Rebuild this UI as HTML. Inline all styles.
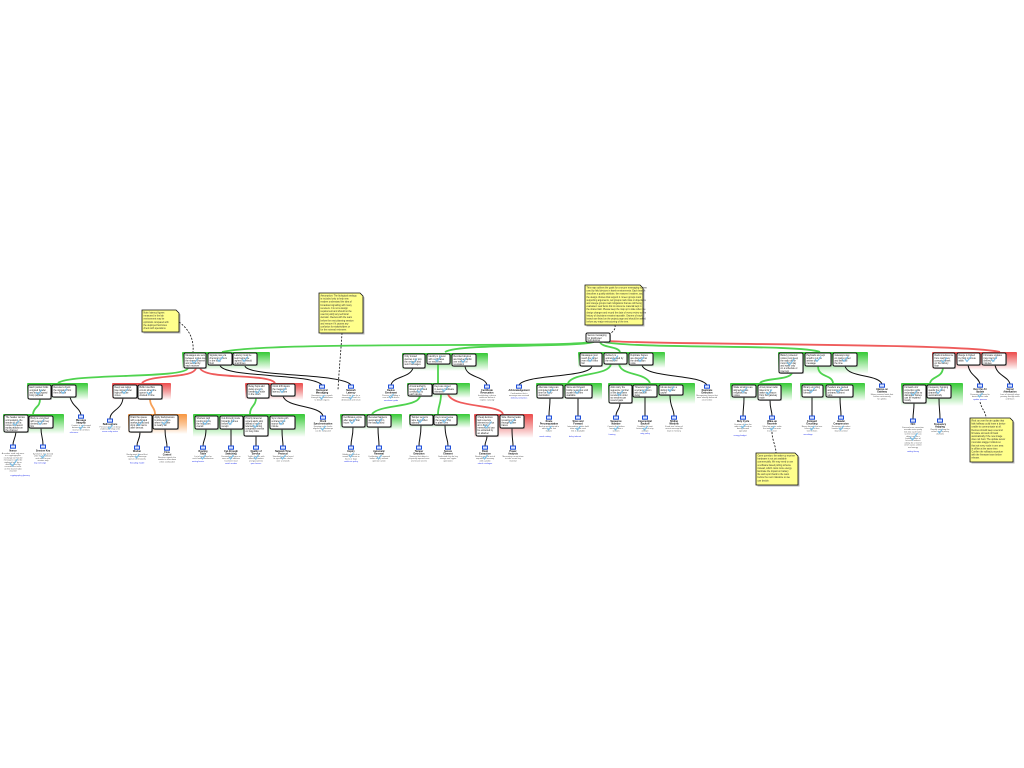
<!DOCTYPE html>
<html><head><meta charset="utf-8"><style>
html,body{margin:0;padding:0;background:#fff;width:1024px;height:768px;overflow:hidden}
svg{position:absolute;left:0;top:0}
.k{fill:#fff;stroke:#111;stroke-width:1}
.s{fill:#8a8a8a;opacity:.6}
.b{font-family:"Liberation Sans",sans-serif;font-size:2.3px;fill:#222}
.c{fill:none;stroke:#7cc2ec;stroke-width:1.1}
.t{font-family:"Liberation Sans",sans-serif;font-size:2.4px;font-weight:bold;fill:#111;text-anchor:middle}
.g{font-family:"Liberation Sans",sans-serif;font-size:2px;fill:#555;text-anchor:middle}
.l{font-family:"Liberation Sans",sans-serif;font-size:2px;fill:#2233ee;text-anchor:middle}
.ic{fill:#dbe6ff;stroke:#1f4fd8;stroke-width:1}
.n{fill:#ffff8c;stroke:#111;stroke-width:.8}
.ns{fill:#777;opacity:.5}
.nt{font-family:"Liberation Sans",sans-serif;font-size:2.3px;fill:#333}
.e{fill:none;stroke:#111;stroke-width:1}
.gr{fill:none;stroke:#4fd34f;stroke-width:1.8}
.rd{fill:none;stroke:#ef5b5b;stroke-width:1.8}
.or{fill:none;stroke:#f7a057;stroke-width:1.8}
.d{fill:none;stroke:#111;stroke-width:.8;stroke-dasharray:2 1.4}
</style></head><body>
<svg width="1024" height="768" viewBox="0 0 1024 768" xmlns="http://www.w3.org/2000/svg">
<defs>
<linearGradient id="gG" x1="0" y1="0" x2="0" y2="1"><stop offset="0" stop-color="#34c934"/><stop offset=".55" stop-color="#a6e9a6"/><stop offset="1" stop-color="#fff"/></linearGradient>
<linearGradient id="gR" x1="0" y1="0" x2="0" y2="1"><stop offset="0" stop-color="#ec4a4a"/><stop offset=".55" stop-color="#f5a9a9"/><stop offset="1" stop-color="#fff"/></linearGradient>
<linearGradient id="gO" x1="0" y1="0" x2="0" y2="1"><stop offset="0" stop-color="#f7953f"/><stop offset=".55" stop-color="#fbc99c"/><stop offset="1" stop-color="#fff"/></linearGradient>
</defs>

<!-- ===== root edges ===== -->
<path class="gr" d="M591,342 C560,348 270,341 222,352"/>
<path class="gr" d="M594,342 C570,348 460,343 445,352"/>
<path class="gr" d="M600,342 C602,348 618,346 620,352"/>
<path class="gr" d="M604,342 C640,349 800,344 820,352"/>
<path class="rd" d="M608,341 C660,345 960,343 1000,352"/>

<!-- ===== group backgrounds ===== -->
<rect x="182" y="352" width="88" height="18" rx="1" fill="url(#gG)"/>
<rect x="27" y="383" width="61" height="17" rx="1" fill="url(#gG)"/>
<rect x="112" y="383" width="59" height="17" rx="1" fill="url(#gR)"/>
<rect x="3" y="414" width="61" height="20" rx="1" fill="url(#gG)"/>
<rect x="128" y="414" width="59" height="20" rx="1" fill="url(#gO)"/>
<rect x="245" y="383" width="58" height="17" rx="1" fill="url(#gR)"/>
<rect x="193" y="414" width="112" height="23" rx="1" fill="url(#gG)"/>
<rect x="402" y="353" width="86" height="18" rx="1" fill="url(#gG)"/>
<rect x="407" y="383" width="63" height="15" rx="1" fill="url(#gG)"/>
<rect x="340" y="414" width="62" height="16" rx="1" fill="url(#gG)"/>
<rect x="409" y="414" width="61" height="14" rx="1" fill="url(#gG)"/>
<rect x="474" y="414" width="59" height="24" rx="1" fill="url(#gR)"/>
<rect x="578" y="352" width="87" height="16" rx="1" fill="url(#gG)"/>
<rect x="536" y="383" width="66" height="17" rx="1" fill="url(#gG)"/>
<rect x="608" y="383" width="87" height="21" rx="1" fill="url(#gG)"/>
<rect x="778" y="352" width="90" height="22" rx="1" fill="url(#gG)"/>
<rect x="730" y="383" width="62" height="18" rx="1" fill="url(#gG)"/>
<rect x="800" y="383" width="65" height="18" rx="1" fill="url(#gG)"/>
<rect x="932" y="352" width="85" height="18" rx="1" fill="url(#gR)"/>
<rect x="901" y="383" width="62" height="23" rx="1" fill="url(#gG)"/>

<!-- ===== edges ===== -->
<!-- A -->
<path class="gr" d="M188,368 C186,379 70,373 58,383"/>
<path class="rd" d="M196,368 C194,379 150,374 142,383"/>
<path class="rd" d="M200,368 C204,380 268,373 275,383"/>
<path class="e" d="M220,365 C222,378 312,373 322,385"/>
<path class="e" d="M245,366 C247,377 343,373 351,385"/>
<!-- G1 / R1 -->
<path class="gr" d="M40,399 C40,408 34,406 33,414"/>
<path class="e" d="M70,397 C72,406 80,408 81,415"/>
<path class="e" d="M123,398 C122,410 110,410 110,419"/>
<path class="or" d="M150,399 C150,407 155,407 155,414"/>
<path class="e" d="M16,432 C15,440 13,440 13,445"/>
<path class="e" d="M41,428 C41,437 43,437 43,445"/>
<path class="e" d="M140,432 C140,440 137,440 137,446"/>
<path class="e" d="M165,429 C165,440 167,440 167,447"/>
<!-- R2 / G2 -->
<path class="e" d="M283,396 C286,408 320,405 323,416"/>
<path class="gr" d="M256,398 C256,406 250,406 250,414"/>
<path class="e" d="M206,429 C206,440 203,440 203,446"/>
<path class="e" d="M231,429 L231,446"/>
<path class="e" d="M256,436 L256,446"/>
<path class="e" d="M282,429 C282,440 283,440 283,446"/>
<!-- B -->
<path class="e" d="M413,368 C410,378 393,376 391,385"/>
<path class="e" d="M465,366 C466,378 485,376 487,385"/>
<path class="gr" d="M438,364 C438,372 438,376 438,383"/>
<path class="gr" d="M420,396 C418,408 380,404 372,414"/>
<path class="gr" d="M441,394 C441,404 438,406 438,414"/>
<path class="rd" d="M448,394 C452,408 500,404 503,414"/>
<path class="e" d="M353,427 C353,438 351,438 351,446"/>
<path class="e" d="M378,427 C378,438 379,438 379,446"/>
<path class="e" d="M421,425 C421,438 419,438 419,446"/>
<path class="e" d="M445,425 C445,438 448,438 448,446"/>
<path class="e" d="M487,436 C487,441 485,441 485,446"/>
<path class="e" d="M512,428 C512,440 513,440 513,446"/>
<!-- C -->
<path class="e" d="M592,366 C590,378 525,374 519,385"/>
<path class="e" d="M642,365 C645,378 700,374 707,385"/>
<path class="gr" d="M611,364 C609,376 574,372 568,383"/>
<path class="gr" d="M619,364 C621,376 645,372 650,383"/>
<path class="e" d="M550,398 C550,408 549,408 549,416"/>
<path class="e" d="M578,398 L578,416"/>
<path class="e" d="M620,403 C620,410 616,410 616,416"/>
<path class="e" d="M645,397 L645,416"/>
<path class="e" d="M670,395 C670,408 674,408 674,416"/>
<!-- D -->
<path class="e" d="M845,366 C848,378 878,374 882,384"/>
<path class="gr" d="M792,373 C790,380 764,378 760,383"/>
<path class="gr" d="M818,366 C818,378 832,374 833,383"/>
<path class="e" d="M744,397 C744,408 743,408 743,416"/>
<path class="e" d="M770,400 C770,410 772,410 772,416"/>
<path class="e" d="M812,397 L812,416"/>
<path class="e" d="M840,397 C840,408 841,408 841,416"/>
<!-- E -->
<path class="gr" d="M943,368 C942,378 932,376 930,383"/>
<path class="e" d="M968,365 C970,376 978,376 980,384"/>
<path class="e" d="M995,365 C997,376 1008,376 1010,384"/>
<path class="e" d="M914,403 C914,412 913,412 913,419"/>
<path class="e" d="M939,398 C939,410 940,410 940,419"/>

<!-- dashed note connectors -->
<path class="d" d="M179,322 C190,330 194,340 193,352"/>
<path class="d" d="M342,333 C341,350 339,370 338,390"/>
<path class="d" d="M615,325 C616,330 612,332 610,334"/>
<path class="d" d="M772,432 C772,440 776,446 776,453"/>
<path class="d" d="M980,402 C982,410 986,412 986,418"/>

<!-- ===== boxes ===== -->
<!-- root -->
<rect class="s" x="587" y="334" width="24" height="9" rx="1.5"/><rect class="k" x="586" y="333" width="24" height="9" rx="1.5"/>
<text class="b"><tspan x="587.5" y="336.2">Secure messaging</tspan><tspan x="587.5" y="338.8">for distributed</tspan><tspan x="587.5" y="341.2">field devices</tspan></text>

<!-- A -->
<rect class="s" x="185" y="354" width="22" height="15" rx="1.5"/><rect class="k" x="184" y="353" width="22" height="15" rx="1.5"/>
<text class="b"><tspan x="185.5" y="356.2">Messages are sent</tspan><tspan x="185.5" y="358.8">between nodes over</tspan><tspan x="185.5" y="361.4">the shared channel</tspan><tspan x="185.5" y="364">and verified by</tspan><tspan x="185.5" y="366.6">each receiver</tspan></text><path class="c" d="M192,361 l2,2.5 l4,-5"/>
<rect class="s" x="209" y="354" width="24" height="12" rx="1.5"/><rect class="k" x="208" y="353" width="24" height="12" rx="1.5"/>
<text class="b"><tspan x="209.5" y="356.2">Signals pass via</tspan><tspan x="209.5" y="358.8">chemical carriers</tspan><tspan x="209.5" y="361.4">in the body</tspan><tspan x="209.5" y="364">fluid</tspan></text><path class="c" d="M217,359 l2,2.5 l4,-5"/>
<rect class="s" x="234" y="354" width="24" height="12" rx="1.5"/><rect class="k" x="233" y="353" width="24" height="12" rx="1.5"/>
<text class="b"><tspan x="234.5" y="356.2">Latency must be</tspan><tspan x="234.5" y="358.8">kept below the</tspan><tspan x="234.5" y="361.4">agreed threshold</tspan><tspan x="234.5" y="364">at all times</tspan></text><path class="c" d="M242,359 l2,2.5 l4,-5"/>

<!-- G1 -->
<rect class="s" x="29" y="386" width="23" height="14" rx="1.5"/><rect class="k" x="28" y="385" width="23" height="14" rx="1.5"/>
<text class="b"><tspan x="29.5" y="388.2">Each packet holds</tspan><tspan x="29.5" y="390.8">a signed header</tspan><tspan x="29.5" y="393.4">and an encrypted</tspan><tspan x="29.5" y="396">body payload</tspan></text><path class="c" d="M36,392 l2,2.5 l4,-5"/>
<rect class="s" x="53" y="386" width="24" height="12" rx="1.5"/><rect class="k" x="52" y="385" width="24" height="12" rx="1.5"/>
<text class="b"><tspan x="53.5" y="388.2">Receivers check</tspan><tspan x="53.5" y="390.8">the signature first</tspan><tspan x="53.5" y="393.4">then decode</tspan></text><path class="c" d="M61,391 l2,2.5 l4,-5"/>
<!-- R1 -->
<rect class="s" x="114" y="386" width="24" height="13" rx="1.5"/><rect class="k" x="113" y="385" width="24" height="13" rx="1.5"/>
<text class="b"><tspan x="114.5" y="388.2">Deep sea relays</tspan><tspan x="114.5" y="390.8">lose signal under</tspan><tspan x="114.5" y="393.4">high pressure</tspan><tspan x="114.5" y="396">zones</tspan></text><path class="c" d="M122,391 l2,2.5 l4,-5"/>
<rect class="s" x="139" y="386" width="24" height="14" rx="1.5"/><rect class="k" x="138" y="385" width="24" height="14" rx="1.5"/>
<text class="b"><tspan x="139.5" y="388.2">Buffer overflow</tspan><tspan x="139.5" y="390.8">occurs when the</tspan><tspan x="139.5" y="393.4">queue is not</tspan><tspan x="139.5" y="396">drained in time</tspan></text><path class="c" d="M147,392 l2,2.5 l4,-5"/>
<!-- G1a -->
<rect class="s" x="5" y="416" width="24" height="17" rx="1.5"/><rect class="k" x="4" y="415" width="24" height="17" rx="1.5"/>
<text class="b"><tspan x="5.5" y="418.2">The header carries</tspan><tspan x="5.5" y="420.8">a timestamp, the</tspan><tspan x="5.5" y="423.4">sender id and a</tspan><tspan x="5.5" y="426">nonce to prevent</tspan><tspan x="5.5" y="428.6">replay attacks on</tspan><tspan x="5.5" y="431.2">the channel</tspan></text><path class="c" d="M13,423 l2,2.5 l4,-5"/>
<rect class="s" x="30" y="417" width="24" height="12" rx="1.5"/><rect class="k" x="29" y="416" width="24" height="12" rx="1.5"/>
<text class="b"><tspan x="30.5" y="419.2">Body is encrypted</tspan><tspan x="30.5" y="421.8">with a session key</tspan><tspan x="30.5" y="424.4">derived per peer</tspan><tspan x="30.5" y="427">link</tspan></text><path class="c" d="M38,422 l2,2.5 l4,-5"/>
<!-- O -->
<rect class="s" x="130" y="416" width="23" height="17" rx="1.5"/><rect class="k" x="129" y="415" width="23" height="17" rx="1.5"/>
<text class="b"><tspan x="130.5" y="418.2">Drain the queue</tspan><tspan x="130.5" y="420.8">with a dedicated</tspan><tspan x="130.5" y="423.4">worker thread and</tspan><tspan x="130.5" y="426">drop stale items</tspan><tspan x="130.5" y="428.6">after timeout</tspan></text><path class="c" d="M137,423 l2,2.5 l4,-5"/>
<rect class="s" x="154" y="416" width="25" height="14" rx="1.5"/><rect class="k" x="153" y="415" width="25" height="14" rx="1.5"/>
<text class="b"><tspan x="154.5" y="418.2">Apply backpressure</tspan><tspan x="154.5" y="420.8">to slow senders</tspan><tspan x="154.5" y="423.4">when the buffer</tspan><tspan x="154.5" y="426">is nearly full</tspan></text><path class="c" d="M162,422 l2,2.5 l4,-5"/>
<!-- R2 -->
<rect class="s" x="248" y="385" width="22" height="14" rx="1.5"/><rect class="k" x="247" y="384" width="22" height="14" rx="1.5"/>
<text class="b"><tspan x="248.5" y="387.2">Relay hops add</tspan><tspan x="248.5" y="389.8">delay at every</tspan><tspan x="248.5" y="392.4">forwarding node</tspan><tspan x="248.5" y="395">in the mesh</tspan></text><path class="c" d="M255,391 l2,2.5 l4,-5"/>
<rect class="s" x="272" y="385" width="24" height="12" rx="1.5"/><rect class="k" x="271" y="384" width="24" height="12" rx="1.5"/>
<text class="b"><tspan x="272.5" y="387.2">Clock drift skews</tspan><tspan x="272.5" y="389.8">the measured</tspan><tspan x="272.5" y="392.4">latency values</tspan></text><path class="c" d="M280,390 l2,2.5 l4,-5"/>
<!-- G2 -->
<rect class="s" x="196" y="417" width="23" height="13" rx="1.5"/><rect class="k" x="195" y="416" width="23" height="13" rx="1.5"/>
<text class="b"><tspan x="196.5" y="419.2">Shortest path</tspan><tspan x="196.5" y="421.8">routing lowers</tspan><tspan x="196.5" y="424.4">the hop count</tspan><tspan x="196.5" y="427">overall</tspan></text><path class="c" d="M203,422 l2,2.5 l4,-5"/>
<rect class="s" x="221" y="417" width="23" height="13" rx="1.5"/><rect class="k" x="220" y="416" width="23" height="13" rx="1.5"/>
<text class="b"><tspan x="221.5" y="419.2">Cut-through mode</tspan><tspan x="221.5" y="421.8">forwards frames</tspan><tspan x="221.5" y="424.4">before full</tspan><tspan x="221.5" y="427">receipt</tspan></text><path class="c" d="M228,422 l2,2.5 l4,-5"/>
<rect class="s" x="245" y="417" width="24" height="20" rx="1.5"/><rect class="k" x="244" y="416" width="24" height="20" rx="1.5"/>
<text class="b"><tspan x="245.5" y="419.2">Priority lanes let</tspan><tspan x="245.5" y="421.8">urgent alerts skip</tspan><tspan x="245.5" y="424.4">ahead of routine</tspan><tspan x="245.5" y="427">telemetry during</tspan><tspan x="245.5" y="429.6">congestion events</tspan><tspan x="245.5" y="432.2">on busy links</tspan></text><path class="c" d="M253,425 l2,2.5 l4,-5"/>
<rect class="s" x="271" y="417" width="25" height="13" rx="1.5"/><rect class="k" x="270" y="416" width="25" height="13" rx="1.5"/>
<text class="b"><tspan x="271.5" y="419.2">Sync clocks with</tspan><tspan x="271.5" y="421.8">a shared time</tspan><tspan x="271.5" y="424.4">source each</tspan><tspan x="271.5" y="427">minute</tspan></text><path class="c" d="M279,422 l2,2.5 l4,-5"/>

<!-- B -->
<rect class="s" x="404" y="355" width="22" height="14" rx="1.5"/><rect class="k" x="403" y="354" width="22" height="14" rx="1.5"/>
<text class="b"><tspan x="404.5" y="357.2">Only trusted</tspan><tspan x="404.5" y="359.8">devices may join</tspan><tspan x="404.5" y="362.4">the network and</tspan><tspan x="404.5" y="365">send messages</tspan></text><path class="c" d="M411,361 l2,2.5 l4,-5"/>
<rect class="s" x="428" y="355" width="23" height="10" rx="1.5"/><rect class="k" x="427" y="354" width="23" height="10" rx="1.5"/>
<text class="b"><tspan x="428.5" y="357.2">Identity is proven</tspan><tspan x="428.5" y="359.8">with certificates</tspan><tspan x="428.5" y="362.4">on enrolment</tspan></text><path class="c" d="M435,359 l2,2.5 l4,-5"/>
<rect class="s" x="453" y="355" width="24" height="12" rx="1.5"/><rect class="k" x="452" y="354" width="24" height="12" rx="1.5"/>
<text class="b"><tspan x="453.5" y="357.2">Revoked devices</tspan><tspan x="453.5" y="359.8">are blocked within</tspan><tspan x="453.5" y="362.4">one minute of</tspan><tspan x="453.5" y="365">revocation</tspan></text><path class="c" d="M461,360 l2,2.5 l4,-5"/>
<!-- B' -->
<rect class="s" x="409" y="385" width="24" height="12" rx="1.5"/><rect class="k" x="408" y="384" width="24" height="12" rx="1.5"/>
<text class="b"><tspan x="409.5" y="387.2">A local authority</tspan><tspan x="409.5" y="389.8">issues short lived</tspan><tspan x="409.5" y="392.4">certificates to</tspan><tspan x="409.5" y="395">each device</tspan></text><path class="c" d="M417,390 l2,2.5 l4,-5"/>
<rect class="s" x="434" y="385" width="24" height="10" rx="1.5"/><rect class="k" x="433" y="384" width="24" height="10" rx="1.5"/>
<text class="b"><tspan x="434.5" y="387.2">Keys are stored</tspan><tspan x="434.5" y="389.8">in secure hardware</tspan><tspan x="434.5" y="392.4">elements</tspan></text><path class="c" d="M442,389 l2,2.5 l4,-5"/>
<!-- Bg1 -->
<rect class="s" x="343" y="416" width="23" height="12" rx="1.5"/><rect class="k" x="342" y="415" width="23" height="12" rx="1.5"/>
<text class="b"><tspan x="343.5" y="418.2">Certificates expire</tspan><tspan x="343.5" y="420.8">after twenty four</tspan><tspan x="343.5" y="423.4">hours</tspan></text><path class="c" d="M350,421 l2,2.5 l4,-5"/>
<rect class="s" x="368" y="416" width="24" height="12" rx="1.5"/><rect class="k" x="367" y="415" width="24" height="12" rx="1.5"/>
<text class="b"><tspan x="368.5" y="418.2">Renewal happens</tspan><tspan x="368.5" y="420.8">automatically in</tspan><tspan x="368.5" y="423.4">the background</tspan></text><path class="c" d="M376,421 l2,2.5 l4,-5"/>
<!-- Bg2 -->
<rect class="s" x="411" y="416" width="23" height="10" rx="1.5"/><rect class="k" x="410" y="415" width="23" height="10" rx="1.5"/>
<text class="b"><tspan x="411.5" y="418.2">Tamper sensors</tspan><tspan x="411.5" y="420.8">wipe keys when</tspan><tspan x="411.5" y="423.4">opened</tspan></text><path class="c" d="M418,420 l2,2.5 l4,-5"/>
<rect class="s" x="435" y="416" width="23" height="10" rx="1.5"/><rect class="k" x="434" y="415" width="23" height="10" rx="1.5"/>
<text class="b"><tspan x="435.5" y="418.2">Keys never leave</tspan><tspan x="435.5" y="420.8">the secure chip</tspan><tspan x="435.5" y="423.4">in plain form</tspan></text><path class="c" d="M442,420 l2,2.5 l4,-5"/>
<!-- Bred -->
<rect class="s" x="477" y="416" width="22" height="21" rx="1.5"/><rect class="k" x="476" y="415" width="22" height="21" rx="1.5"/>
<text class="b"><tspan x="477.5" y="418.2">Cheap devices</tspan><tspan x="477.5" y="420.8">lack a secure</tspan><tspan x="477.5" y="423.4">element so keys</tspan><tspan x="477.5" y="426">sit in flash</tspan><tspan x="477.5" y="428.6">memory and can</tspan><tspan x="477.5" y="431.2">be extracted by</tspan><tspan x="477.5" y="433.8">an attacker</tspan></text><path class="c" d="M484,425 l2.5,3 l5,-6.5"/>
<rect class="s" x="501" y="416" width="24" height="13" rx="1.5"/><rect class="k" x="500" y="415" width="24" height="13" rx="1.5"/>
<text class="b"><tspan x="501.5" y="418.2">Side channel leaks</tspan><tspan x="501.5" y="420.8">reveal key bits</tspan><tspan x="501.5" y="423.4">through power</tspan><tspan x="501.5" y="426">traces</tspan></text><path class="c" d="M509,421 l2,2.5 l4,-5"/>

<!-- C -->
<rect class="s" x="581" y="354" width="22" height="13" rx="1.5"/><rect class="k" x="580" y="353" width="22" height="13" rx="1.5"/>
<text class="b"><tspan x="581.5" y="356.2">Messages must</tspan><tspan x="581.5" y="358.8">reach the target</tspan><tspan x="581.5" y="361.4">even when links</tspan><tspan x="581.5" y="364">fail</tspan></text><path class="c" d="M588,359 l2,2.5 l4,-5"/>
<rect class="s" x="605" y="354" width="23" height="11" rx="1.5"/><rect class="k" x="604" y="353" width="23" height="11" rx="1.5"/>
<text class="b"><tspan x="605.5" y="356.2">Delivery is</tspan><tspan x="605.5" y="358.8">acknowledged by</tspan><tspan x="605.5" y="361.4">the receiver</tspan></text><path class="c" d="M612,358 l2,2.5 l4,-5"/>
<rect class="s" x="630" y="354" width="24" height="12" rx="1.5"/><rect class="k" x="629" y="353" width="24" height="12" rx="1.5"/>
<text class="b"><tspan x="630.5" y="356.2">Duplicate frames</tspan><tspan x="630.5" y="358.8">are discarded at</tspan><tspan x="630.5" y="361.4">the destination</tspan><tspan x="630.5" y="364">node</tspan></text><path class="c" d="M638,359 l2,2.5 l4,-5"/>
<!-- C1g -->
<rect class="s" x="538" y="386" width="26" height="13" rx="1.5"/><rect class="k" x="537" y="385" width="26" height="13" rx="1.5"/>
<text class="b"><tspan x="538.5" y="388.2">Alternate routes are</tspan><tspan x="538.5" y="390.8">computed ahead of</tspan><tspan x="538.5" y="393.4">time for every</tspan><tspan x="538.5" y="396">destination</tspan></text><path class="c" d="M547,391 l2,2.5 l4,-5"/>
<rect class="s" x="566" y="386" width="27" height="13" rx="1.5"/><rect class="k" x="565" y="385" width="27" height="13" rx="1.5"/>
<text class="b"><tspan x="566.5" y="388.2">Store and forward</tspan><tspan x="566.5" y="390.8">holds messages until</tspan><tspan x="566.5" y="393.4">a path becomes</tspan><tspan x="566.5" y="396">available</tspan></text><path class="c" d="M575,391 l2,2.5 l4,-5"/>
<!-- C2g -->
<rect class="s" x="610" y="386" width="23" height="18" rx="1.5"/><rect class="k" x="609" y="385" width="23" height="18" rx="1.5"/>
<text class="b"><tspan x="610.5" y="388.2">Acks carry the</tspan><tspan x="610.5" y="390.8">sequence number</tspan><tspan x="610.5" y="393.4">of the last frame</tspan><tspan x="610.5" y="396">received in order</tspan><tspan x="610.5" y="398.6">so senders can</tspan><tspan x="610.5" y="401.2">resend gaps</tspan></text><path class="c" d="M617,393 l2,2.5 l4,-5"/>
<rect class="s" x="634" y="386" width="24" height="12" rx="1.5"/><rect class="k" x="633" y="385" width="24" height="12" rx="1.5"/>
<text class="b"><tspan x="634.5" y="388.2">Timeouts trigger</tspan><tspan x="634.5" y="390.8">a retransmission</tspan><tspan x="634.5" y="393.4">with backoff</tspan><tspan x="634.5" y="396">delay</tspan></text><path class="c" d="M642,390 l2,2.5 l4,-5"/>
<rect class="s" x="660" y="386" width="24" height="10" rx="1.5"/><rect class="k" x="659" y="385" width="24" height="10" rx="1.5"/>
<text class="b"><tspan x="660.5" y="388.2">Ids are kept in a</tspan><tspan x="660.5" y="390.8">sliding window</tspan><tspan x="660.5" y="393.4">cache</tspan></text><path class="c" d="M668,389 l2,2.5 l4,-5"/>

<!-- D -->
<rect class="s" x="780" y="354" width="24" height="20" rx="1.5"/><rect class="k" x="779" y="353" width="24" height="20" rx="1.5"/>
<text class="b"><tspan x="780.5" y="356.2">Battery powered</tspan><tspan x="780.5" y="358.8">nodes must keep</tspan><tspan x="780.5" y="361.4">the radio off for</tspan><tspan x="780.5" y="364">most of the day</tspan><tspan x="780.5" y="366.6">and wake only</tspan><tspan x="780.5" y="369.2">on a schedule or</tspan><tspan x="780.5" y="371.8">interrupt</tspan></text><path class="c" d="M787,362 l2.5,3 l5,-6.5"/>
<rect class="s" x="806" y="354" width="26" height="13" rx="1.5"/><rect class="k" x="805" y="353" width="26" height="13" rx="1.5"/>
<text class="b"><tspan x="806.5" y="356.2">Payloads are kept</tspan><tspan x="806.5" y="358.8">small to cut the</tspan><tspan x="806.5" y="361.4">airtime per</tspan><tspan x="806.5" y="364">message</tspan></text><path class="c" d="M815,359 l2,2.5 l4,-5"/>
<rect class="s" x="834" y="354" width="24" height="13" rx="1.5"/><rect class="k" x="833" y="353" width="24" height="13" rx="1.5"/>
<text class="b"><tspan x="834.5" y="356.2">Gateways stay</tspan><tspan x="834.5" y="358.8">on mains power</tspan><tspan x="834.5" y="361.4">and listen all</tspan><tspan x="834.5" y="364">the time</tspan></text><path class="c" d="M842,359 l2,2.5 l4,-5"/>
<!-- D1g -->
<rect class="s" x="733" y="386" width="24" height="12" rx="1.5"/><rect class="k" x="732" y="385" width="24" height="12" rx="1.5"/>
<text class="b"><tspan x="733.5" y="388.2">Wake windows are</tspan><tspan x="733.5" y="390.8">aligned across</tspan><tspan x="733.5" y="393.4">neighbouring</tspan><tspan x="733.5" y="396">nodes</tspan></text><path class="c" d="M741,390 l2,2.5 l4,-5"/>
<rect class="s" x="759" y="386" width="23" height="15" rx="1.5"/><rect class="k" x="758" y="385" width="23" height="15" rx="1.5"/>
<text class="b"><tspan x="759.5" y="388.2">A low power radio</tspan><tspan x="759.5" y="390.8">listens for a</tspan><tspan x="759.5" y="393.4">wake up beacon</tspan><tspan x="759.5" y="396">from the gateway</tspan><tspan x="759.5" y="398.6">node</tspan></text><path class="c" d="M766,392 l2,2.5 l4,-5"/>
<!-- D2g -->
<rect class="s" x="803" y="386" width="21" height="12" rx="1.5"/><rect class="k" x="802" y="385" width="21" height="12" rx="1.5"/>
<text class="b"><tspan x="803.5" y="388.2">Binary encoding</tspan><tspan x="803.5" y="390.8">replaces text</tspan><tspan x="803.5" y="393.4">formats</tspan></text><path class="c" d="M809,390 l2,2.5 l4,-5"/>
<rect class="s" x="827" y="386" width="27" height="12" rx="1.5"/><rect class="k" x="826" y="385" width="27" height="12" rx="1.5"/>
<text class="b"><tspan x="827.5" y="388.2">Headers are packed</tspan><tspan x="827.5" y="390.8">and compressed with</tspan><tspan x="827.5" y="393.4">a shared context</tspan><tspan x="827.5" y="396">table</tspan></text><path class="c" d="M836,390 l2,2.5 l4,-5"/>

<!-- E -->
<rect class="s" x="934" y="354" width="22" height="15" rx="1.5"/><rect class="k" x="933" y="353" width="22" height="15" rx="1.5"/>
<text class="b"><tspan x="934.5" y="356.2">Radio interference</tspan><tspan x="934.5" y="358.8">from machinery</tspan><tspan x="934.5" y="361.4">corrupts frames</tspan><tspan x="934.5" y="364">on the factory</tspan><tspan x="934.5" y="366.6">floor</tspan></text><path class="c" d="M941,360 l2,2.5 l4,-5"/>
<rect class="s" x="958" y="354" width="23" height="12" rx="1.5"/><rect class="k" x="957" y="353" width="23" height="12" rx="1.5"/>
<text class="b"><tspan x="958.5" y="356.2">Range is limited</tspan><tspan x="958.5" y="358.8">by thick concrete</tspan><tspan x="958.5" y="361.4">walls</tspan></text><path class="c" d="M965,359 l2,2.5 l4,-5"/>
<rect class="s" x="983" y="354" width="24" height="12" rx="1.5"/><rect class="k" x="982" y="353" width="24" height="12" rx="1.5"/>
<text class="b"><tspan x="983.5" y="356.2">Firmware updates</tspan><tspan x="983.5" y="358.8">may interrupt</tspan><tspan x="983.5" y="361.4">delivery for</tspan><tspan x="983.5" y="364">minutes</tspan></text><path class="c" d="M991,359 l2,2.5 l4,-5"/>
<!-- E1g -->
<rect class="s" x="904" y="386" width="23" height="18" rx="1.5"/><rect class="k" x="903" y="385" width="23" height="18" rx="1.5"/>
<text class="b"><tspan x="904.5" y="388.2">Forward error</tspan><tspan x="904.5" y="390.8">correction adds</tspan><tspan x="904.5" y="393.4">redundant bits so</tspan><tspan x="904.5" y="396">damaged frames</tspan><tspan x="904.5" y="398.6">can be repaired</tspan><tspan x="904.5" y="401.2">locally</tspan></text><path class="c" d="M911,393 l2,2.5 l4,-5"/>
<rect class="s" x="928" y="386" width="24" height="13" rx="1.5"/><rect class="k" x="927" y="385" width="24" height="13" rx="1.5"/>
<text class="b"><tspan x="928.5" y="388.2">Frequency hopping</tspan><tspan x="928.5" y="390.8">avoids the noisy</tspan><tspan x="928.5" y="393.4">channels</tspan><tspan x="928.5" y="396">automatically</tspan></text><path class="c" d="M936,391 l2,2.5 l4,-5"/>

<!-- ===== leaves ===== -->
<g>
<rect class="ic" x="319.5" y="385" width="5" height="3.2"/>
<text class="t"><tspan x="322" y="391">Biological</tspan><tspan x="322" y="393.5">Messaging</tspan></text>
<text class="g"><tspan x="322" y="396">Hormones carry signals</tspan><tspan x="322" y="398.2">through the bloodstream</tspan><tspan x="322" y="400.4">to distant organs</tspan></text>
<path class="c" d="M320,397 l1.5,2 l3,-4"/>

<rect class="ic" x="348.5" y="385" width="5" height="3.2"/>
<text class="t"><tspan x="351" y="391">Network</tspan><tspan x="351" y="393.5">Latency</tspan></text>
<text class="g"><tspan x="351" y="396">Round trip time for a</tspan><tspan x="351" y="398.2">message to reach its</tspan><tspan x="351" y="400.4">destination and return</tspan></text>
<path class="c" d="M349,397 l1.5,2 l3,-4"/>

<rect class="ic" x="78.5" y="415" width="5" height="3.2"/>
<text class="t"><tspan x="81" y="421">Message</tspan><tspan x="81" y="423.5">Integrity</tspan></text>
<text class="g"><tspan x="81" y="426">Content is unchanged</tspan><tspan x="81" y="428.2">between sender and</tspan><tspan x="81" y="430.4">receiver at all times</tspan></text>
<text class="l" x="74" y="433">reference</text>
<path class="c" d="M79,427 l1.5,2 l3,-4"/>

<rect class="ic" x="107.5" y="419" width="5" height="3.2"/>
<text class="t" x="110" y="425">Bathosphere</text>
<text class="g"><tspan x="110" y="427.5">Pressure limits on deep</tspan><tspan x="110" y="429.7">underwater relay units</tspan></text>
<text class="l" x="110" y="432">ocean relay notes</text>
<path class="c" d="M108,427 l1.5,2 l3,-4"/>

<rect class="ic" x="10.5" y="445" width="5" height="3.2"/>
<text class="t" x="13" y="451.5">Nonce</text>
<text class="g"><tspan x="13" y="454">A number used only once</tspan><tspan x="13" y="456.2">in a cryptographic</tspan><tspan x="13" y="458.4">exchange so that old</tspan><tspan x="13" y="460.6">messages cannot be</tspan><tspan x="13" y="462.8">replayed later by an</tspan><tspan x="13" y="465">attacker who has</tspan><tspan x="13" y="467.2">recorded the traffic</tspan><tspan x="13" y="469.4">on the shared radio</tspan><tspan x="13" y="471.6">channel</tspan></text>
<text class="l" x="20" y="476">cryptography glossary</text>
<path class="c" d="M10,463 l2.5,3 l5,-7"/>

<rect class="ic" x="40.5" y="445" width="5" height="3.2"/>
<text class="t" x="43" y="451.5">Session Key</text>
<text class="g"><tspan x="43" y="454.5">Symmetric key derived</tspan><tspan x="43" y="456.7">after the handshake</tspan><tspan x="43" y="458.9">and used for one</tspan><tspan x="43" y="461.1">session only</tspan></text>
<text class="l" x="40" y="463.5">key exchange</text>
<path class="c" d="M41,456 l1.5,2 l3,-4"/>

<rect class="ic" x="134.5" y="446" width="5" height="3.2"/>
<text class="t" x="137" y="452">Worker</text>
<text class="g"><tspan x="137" y="455">Background thread that</tspan><tspan x="137" y="457.2">empties the message</tspan><tspan x="137" y="459.4">queue continuously</tspan></text>
<text class="l" x="137" y="463.5">threading model</text>
<path class="c" d="M135,456 l1.5,2 l3,-4"/>

<rect class="ic" x="164.5" y="447" width="5" height="3.2"/>
<text class="t"><tspan x="167" y="453">Flow</tspan><tspan x="167" y="455.5">Control</tspan></text>
<text class="g"><tspan x="167" y="458">Receiver signals the</tspan><tspan x="167" y="460.2">sender to slow down</tspan><tspan x="167" y="462.4">when overloaded</tspan></text>

<rect class="ic" x="320.5" y="416" width="5" height="3.2"/>
<text class="t"><tspan x="323" y="422">Clock</tspan><tspan x="323" y="424.5">Synchronisation</tspan></text>
<text class="g"><tspan x="323" y="427">Keeping node clocks</tspan><tspan x="323" y="429.2">aligned so timestamps</tspan><tspan x="323" y="431.4">can be compared</tspan></text>
<path class="c" d="M321,428 l1.5,2 l3,-4"/>

<rect class="ic" x="200.5" y="446" width="5" height="3.2"/>
<text class="t"><tspan x="203" y="452">Routing</tspan><tspan x="203" y="454.5">Table</tspan></text>
<text class="g"><tspan x="203" y="457">List of next hops for</tspan><tspan x="203" y="459.2">each known destination</tspan></text>
<text class="l" x="198" y="462">routing basics</text>
<path class="c" d="M201,457 l1.5,2 l3,-4"/>

<rect class="ic" x="228.5" y="446" width="5" height="3.2"/>
<text class="t"><tspan x="231" y="452">Cut-through</tspan><tspan x="231" y="454.5">Switching</tspan></text>
<text class="g"><tspan x="231" y="457">Forwarding begins as</tspan><tspan x="231" y="459.2">soon as the address</tspan><tspan x="231" y="461.4">has been read</tspan></text>
<text class="l" x="231" y="464">switch modes</text>
<path class="c" d="M229,457 l1.5,2 l3,-4"/>

<rect class="ic" x="253.5" y="446" width="5" height="3.2"/>
<text class="t"><tspan x="256" y="452">Quality of</tspan><tspan x="256" y="454.5">Service</tspan></text>
<text class="g"><tspan x="256" y="457">Traffic classes with</tspan><tspan x="256" y="459.2">different priorities</tspan><tspan x="256" y="461.4">and guarantees</tspan></text>
<text class="l" x="256" y="464">qos classes</text>
<path class="c" d="M254,457 l1.5,2 l3,-4"/>

<rect class="ic" x="280.5" y="446" width="5" height="3.2"/>
<text class="t"><tspan x="283" y="452">Network Time</tspan><tspan x="283" y="454.5">Protocol</tspan></text>
<text class="g"><tspan x="283" y="457">Standard protocol used</tspan><tspan x="283" y="459.2">to synchronise clocks</tspan><tspan x="283" y="461.4">over a network</tspan></text>
<path class="c" d="M281,457 l1.5,2 l3,-4"/>

<rect class="ic" x="388.5" y="385" width="5" height="3.2"/>
<text class="t"><tspan x="391" y="391">Device</tspan><tspan x="391" y="393.5">Enrolment</tspan></text>
<text class="g"><tspan x="391" y="396">Process of adding a</tspan><tspan x="391" y="398.2">new trusted device</tspan></text>
<text class="l" x="391" y="400.8">enrolment guide</text>
<path class="c" d="M389,396 l1.5,2 l3,-4"/>

<rect class="ic" x="484.5" y="385" width="5" height="3.2"/>
<text class="t"><tspan x="487" y="391">Certificate</tspan><tspan x="487" y="393.5">Revocation</tspan></text>
<text class="g"><tspan x="487" y="396">Invalidating a device</tspan><tspan x="487" y="398.2">certificate before it</tspan><tspan x="487" y="400.4">expires naturally</tspan></text>

<rect class="ic" x="348.5" y="446" width="5" height="3.2"/>
<text class="t" x="351" y="452">Expiry</text>
<text class="g"><tspan x="351" y="455">Validity period of an</tspan><tspan x="351" y="457.2">issued certificate in</tspan><tspan x="351" y="459.4">hours or days</tspan></text>
<text class="l" x="351" y="462">certificate policy</text>
<path class="c" d="M349,455 l1.5,2 l3,-4"/>

<rect class="ic" x="376.5" y="446" width="5" height="3.2"/>
<text class="t"><tspan x="379" y="452">Automatic</tspan><tspan x="379" y="454.5">Renewal</tspan></text>
<text class="g"><tspan x="379" y="457">Certificates are renewed</tspan><tspan x="379" y="459.2">before expiry without</tspan><tspan x="379" y="461.4">operator action</tspan></text>
<path class="c" d="M377,457 l1.5,2 l3,-4"/>

<rect class="ic" x="416.5" y="446" width="5" height="3.2"/>
<text class="t"><tspan x="419" y="452">Tamper</tspan><tspan x="419" y="454.5">Detection</tspan></text>
<text class="g"><tspan x="419" y="457">Sensors that detect a</tspan><tspan x="419" y="459.2">physically opened case</tspan><tspan x="419" y="461.4">and erase secrets</tspan></text>

<rect class="ic" x="445.5" y="446" width="5" height="3.2"/>
<text class="t"><tspan x="448" y="452">Secure</tspan><tspan x="448" y="454.5">Element</tspan></text>
<text class="g"><tspan x="448" y="457">Dedicated chip for key</tspan><tspan x="448" y="459.2">storage and crypto</tspan><tspan x="448" y="461.4">operations</tspan></text>

<rect class="ic" x="482.5" y="446" width="5" height="3.2"/>
<text class="t"><tspan x="485" y="452">Flash</tspan><tspan x="485" y="454.5">Extraction</tspan></text>
<text class="g"><tspan x="485" y="457">Reading secrets out of</tspan><tspan x="485" y="459.2">unprotected memory</tspan><tspan x="485" y="461.4">with a probe</tspan></text>
<text class="l" x="485" y="464">attack catalogue</text>
<path class="c" d="M483,457 l1.5,2 l3,-4"/>

<rect class="ic" x="510.5" y="446" width="5" height="3.2"/>
<text class="t"><tspan x="513" y="452">Power</tspan><tspan x="513" y="454.5">Analysis</tspan></text>
<text class="g"><tspan x="513" y="457">Measuring current draw</tspan><tspan x="513" y="459.2">to infer secret key</tspan><tspan x="513" y="461.4">material</tspan></text>

<rect class="ic" x="516.5" y="385" width="5" height="3.2"/>
<text class="t" x="519" y="391">Acknowledgement</text>
<text class="g"><tspan x="519" y="393.8">Confirmation that a</tspan><tspan x="519" y="396">message was received</tspan></text>
<text class="l" x="519" y="398.6">delivery semantics</text>

<rect class="ic" x="704.5" y="385" width="5" height="3.2"/>
<text class="t"><tspan x="707" y="391">Duplicate</tspan><tspan x="707" y="393.5">Detection</tspan></text>
<text class="g"><tspan x="707" y="396">Recognising frames that</tspan><tspan x="707" y="398.2">were already delivered</tspan><tspan x="707" y="400.4">once before</tspan></text>

<rect class="ic" x="546.5" y="416" width="5" height="3.2"/>
<text class="t"><tspan x="549" y="422">Route</tspan><tspan x="549" y="424.5">Precomputation</tspan></text>
<text class="g"><tspan x="549" y="427">Backup paths stored in</tspan><tspan x="549" y="429.2">advance for fast</tspan><tspan x="549" y="431.4">failover</tspan></text>
<text class="l" x="545" y="437">mesh routing</text>
<path class="c" d="M547,428 l1.5,2 l3,-4"/>

<rect class="ic" x="575.5" y="416" width="5" height="3.2"/>
<text class="t"><tspan x="578" y="422">Store and</tspan><tspan x="578" y="424.5">Forward</tspan></text>
<text class="g"><tspan x="578" y="427">Intermediate nodes hold</tspan><tspan x="578" y="429.2">data until the next</tspan><tspan x="578" y="431.4">link is available</tspan></text>
<text class="l" x="575" y="437">delay tolerant</text>
<path class="c" d="M576,428 l1.5,2 l3,-4"/>

<rect class="ic" x="613.5" y="416" width="5" height="3.2"/>
<text class="t"><tspan x="616" y="422">Sequence</tspan><tspan x="616" y="424.5">Number</tspan></text>
<text class="g"><tspan x="616" y="427">Counter that orders</tspan><tspan x="616" y="429.2">frames within a</tspan><tspan x="616" y="431.4">session</tspan></text>
<text class="l" x="612" y="435">framing</text>
<path class="c" d="M614,428 l1.5,2 l3,-4"/>

<rect class="ic" x="642.5" y="416" width="5" height="3.2"/>
<text class="t"><tspan x="645" y="422">Exponential</tspan><tspan x="645" y="424.5">Backoff</tspan></text>
<text class="g"><tspan x="645" y="427">Doubling the wait</tspan><tspan x="645" y="429.2">between each retry</tspan><tspan x="645" y="431.4">attempt</tspan></text>
<text class="l" x="645" y="434">retry policy</text>
<path class="c" d="M643,428 l1.5,2 l3,-4"/>

<rect class="ic" x="671.5" y="416" width="5" height="3.2"/>
<text class="t"><tspan x="674" y="422">Sliding</tspan><tspan x="674" y="424.5">Window</tspan></text>
<text class="g"><tspan x="674" y="427">Fixed size history of</tspan><tspan x="674" y="429.2">recent message ids</tspan><tspan x="674" y="431.4">kept in memory</tspan></text>

<rect class="ic" x="879.5" y="384" width="5" height="3.2"/>
<text class="t"><tspan x="882" y="390">Always-on</tspan><tspan x="882" y="392.5">Gateway</tspan></text>
<text class="g"><tspan x="882" y="395">Mains powered node that</tspan><tspan x="882" y="397.2">listens continuously</tspan><tspan x="882" y="399.4">for uplinks</tspan></text>

<rect class="ic" x="740.5" y="416" width="5" height="3.2"/>
<text class="t" x="743" y="422">Duty Cycle</text>
<text class="g"><tspan x="743" y="424.8">Fraction of time the</tspan><tspan x="743" y="427">radio is switched on</tspan><tspan x="743" y="429.2">during normal</tspan><tspan x="743" y="431.4">operation</tspan></text>
<text class="l" x="740" y="436">energy budget</text>
<path class="c" d="M741,426 l1.5,2 l3,-4"/>

<rect class="ic" x="769.5" y="416" width="5" height="3.2"/>
<text class="t"><tspan x="772" y="422">Wake-up</tspan><tspan x="772" y="424.5">Receiver</tspan></text>
<text class="g"><tspan x="772" y="427">Ultra low power radio</tspan><tspan x="772" y="429.2">that wakes the main</tspan><tspan x="772" y="431.4">transceiver</tspan></text>
<path class="c" d="M770,428 l1.5,2 l3,-4"/>

<rect class="ic" x="809.5" y="416" width="5" height="3.2"/>
<text class="t"><tspan x="812" y="422">Compact</tspan><tspan x="812" y="424.5">Encoding</tspan></text>
<text class="g"><tspan x="812" y="427">Binary formats that use</tspan><tspan x="812" y="429.2">fewer bytes than</tspan><tspan x="812" y="431.4">text formats</tspan></text>
<text class="l" x="808" y="435">encodings</text>
<path class="c" d="M810,428 l1.5,2 l3,-4"/>

<rect class="ic" x="838.5" y="416" width="5" height="3.2"/>
<text class="t"><tspan x="841" y="422">Header</tspan><tspan x="841" y="424.5">Compression</tspan></text>
<text class="g"><tspan x="841" y="427">Removing redundant</tspan><tspan x="841" y="429.2">header fields using a</tspan><tspan x="841" y="431.4">shared context</tspan></text>
<path class="c" d="M839,428 l1.5,2 l3,-4"/>

<rect class="ic" x="977.5" y="384" width="5" height="3.2"/>
<text class="t"><tspan x="980" y="390">Over the Air</tspan><tspan x="980" y="392.5">Update</tspan></text>
<text class="g"><tspan x="980" y="395">Firmware delivered to</tspan><tspan x="980" y="397.2">devices over radio</tspan></text>
<text class="l" x="980" y="400">update process</text>
<path class="c" d="M978,395 l1.5,2 l3,-4"/>

<rect class="ic" x="1007.5" y="384" width="5" height="3.2"/>
<text class="t"><tspan x="1010" y="390">Signal</tspan><tspan x="1010" y="392.5">Attenuation</tspan></text>
<text class="g"><tspan x="1010" y="395">Loss of strength when</tspan><tspan x="1010" y="397.2">passing through walls</tspan><tspan x="1010" y="399.4">and floors</tspan></text>

<rect class="ic" x="910.5" y="419" width="5" height="3.2"/>
<text class="t" x="913" y="425">FEC</text>
<text class="g"><tspan x="913" y="428">Forward error correction</tspan><tspan x="913" y="430.2">encodes extra parity</tspan><tspan x="913" y="432.4">bits into each frame</tspan><tspan x="913" y="434.6">so the receiver can</tspan><tspan x="913" y="436.8">detect and fix a</tspan><tspan x="913" y="439">limited number of</tspan><tspan x="913" y="441.2">bit errors without</tspan><tspan x="913" y="443.4">asking for a resend</tspan><tspan x="913" y="445.6">which saves airtime</tspan><tspan x="913" y="447.8">and energy</tspan></text>
<text class="l" x="913" y="452">coding theory</text>
<path class="c" d="M910,437 l2.5,3 l5,-7"/>

<rect class="ic" x="937.5" y="419" width="5" height="3.2"/>
<text class="t"><tspan x="940" y="425">Frequency</tspan><tspan x="940" y="427.5">Hopping</tspan></text>
<text class="g"><tspan x="940" y="430">Rapidly switching the</tspan><tspan x="940" y="432.2">carrier among many</tspan><tspan x="940" y="434.4">channels</tspan></text>
<path class="c" d="M938,431 l1.5,2 l3,-4"/>
</g>

<!-- ===== notes ===== -->
<polygon class="ns" points="143.5,311.5 177.5,311.5 180.5,314.5 180.5,333.5 143.5,333.5"/>
<polygon class="n" points="142,310 176,310 179,313 179,332 142,332"/>
<text class="nt"><tspan x="143.5" y="313.5">Note: latency figures</tspan><tspan x="143.5" y="316.6">measured in the lab</tspan><tspan x="143.5" y="319.7">environment may be</tspan><tspan x="143.5" y="322.8">optimistic compared with</tspan><tspan x="143.5" y="325.9">the deployed field sites</tspan><tspan x="143.5" y="329">check with operations</tspan></text>

<polygon class="ns" points="320.5,294.5 361.5,294.5 364.5,297.5 364.5,334.5 320.5,334.5"/>
<polygon class="n" points="319,293 360,293 363,296 363,333 319,333"/>
<text class="nt"><tspan x="320.5" y="296.5">Assumption: The biological analogy</tspan><tspan x="320.5" y="299.6">is included only to help new</tspan><tspan x="320.5" y="302.7">readers understand the idea of</tspan><tspan x="320.5" y="305.8">broadcast signalling with many</tspan><tspan x="320.5" y="308.9">receivers. It is not a design</tspan><tspan x="320.5" y="312">requirement and should not be</tspan><tspan x="320.5" y="315.1">used to justify any technical</tspan><tspan x="320.5" y="318.2">decision. Review with the team</tspan><tspan x="320.5" y="321.3">before the next planning session</tspan><tspan x="320.5" y="324.4">and remove if it causes any</tspan><tspan x="320.5" y="327.5">confusion for stakeholders or</tspan><tspan x="320.5" y="330.6">for the external reviewers</tspan></text>

<polygon class="ns" points="586.5,286.5 641.5,286.5 644.5,289.5 644.5,326.5 586.5,326.5"/>
<polygon class="n" points="585,285 640,285 643,288 643,325 585,325"/>
<text class="nt"><tspan x="586.5" y="288.5">This map outlines the goals for a secure messaging system</tspan><tspan x="586.5" y="291.6">used by field devices in harsh environments. Each branch</tspan><tspan x="586.5" y="294.7">describes a quality attribute, the reasons it matters, and</tspan><tspan x="586.5" y="297.8">the design choices that support it. Green groups mark</tspan><tspan x="586.5" y="300.9">supporting arguments, red groups mark risks or objections</tspan><tspan x="586.5" y="304">and orange groups mark mitigations that are still being</tspan><tspan x="586.5" y="307.1">evaluated. Leaf items link to reference material kept in</tspan><tspan x="586.5" y="310.2">the shared wiki. Please keep the map up to date when the</tspan><tspan x="586.5" y="313.3">design changes and record the date of every review so the</tspan><tspan x="586.5" y="316.4">history of decisions remains traceable. Owners of each</tspan><tspan x="586.5" y="319.5">branch are listed on the project page and should be asked</tspan><tspan x="586.5" y="322.6">before any major restructuring of the tree.</tspan></text>

<polygon class="ns" points="757.5,454.5 796.5,454.5 799.5,457.5 799.5,486.5 757.5,486.5"/>
<polygon class="n" points="756,453 795,453 798,456 798,485 756,485"/>
<text class="nt"><tspan x="757.5" y="456.5">Open question: the wake-up receiver</tspan><tspan x="757.5" y="459.6">hardware is not yet available</tspan><tspan x="757.5" y="462.7">commercially. We may need to use</tspan><tspan x="757.5" y="465.8">a software based polling scheme</tspan><tspan x="757.5" y="468.9">instead, which costs more energy.</tspan><tspan x="757.5" y="472">Estimate the impact on battery</tspan><tspan x="757.5" y="475.1">life and report back to the team</tspan><tspan x="757.5" y="478.2">before the next milestone so we</tspan><tspan x="757.5" y="481.3">can decide.</tspan></text>

<polygon class="ns" points="971.5,419.5 1011.5,419.5 1014.5,422.5 1014.5,463.5 971.5,463.5"/>
<polygon class="n" points="970,418 1010,418 1013,421 1013,462 970,462"/>
<text class="nt"><tspan x="971.5" y="421.5">Risk: an over the air update that</tspan><tspan x="971.5" y="424.6">fails halfway could leave a device</tspan><tspan x="971.5" y="427.7">unable to communicate at all.</tspan><tspan x="971.5" y="430.8">Devices should keep a second</tspan><tspan x="971.5" y="433.9">firmware slot and roll back</tspan><tspan x="971.5" y="437">automatically if the new image</tspan><tspan x="971.5" y="440.1">does not boot. The update server</tspan><tspan x="971.5" y="443.2">must also stagger rollouts so</tspan><tspan x="971.5" y="446.3">that not every node in one area</tspan><tspan x="971.5" y="449.4">is offline at the same time.</tspan><tspan x="971.5" y="452.5">Confirm the rollback procedure</tspan><tspan x="971.5" y="455.6">with the firmware team before</tspan><tspan x="971.5" y="458.7">release.</tspan></text>
</svg>
</body></html>
